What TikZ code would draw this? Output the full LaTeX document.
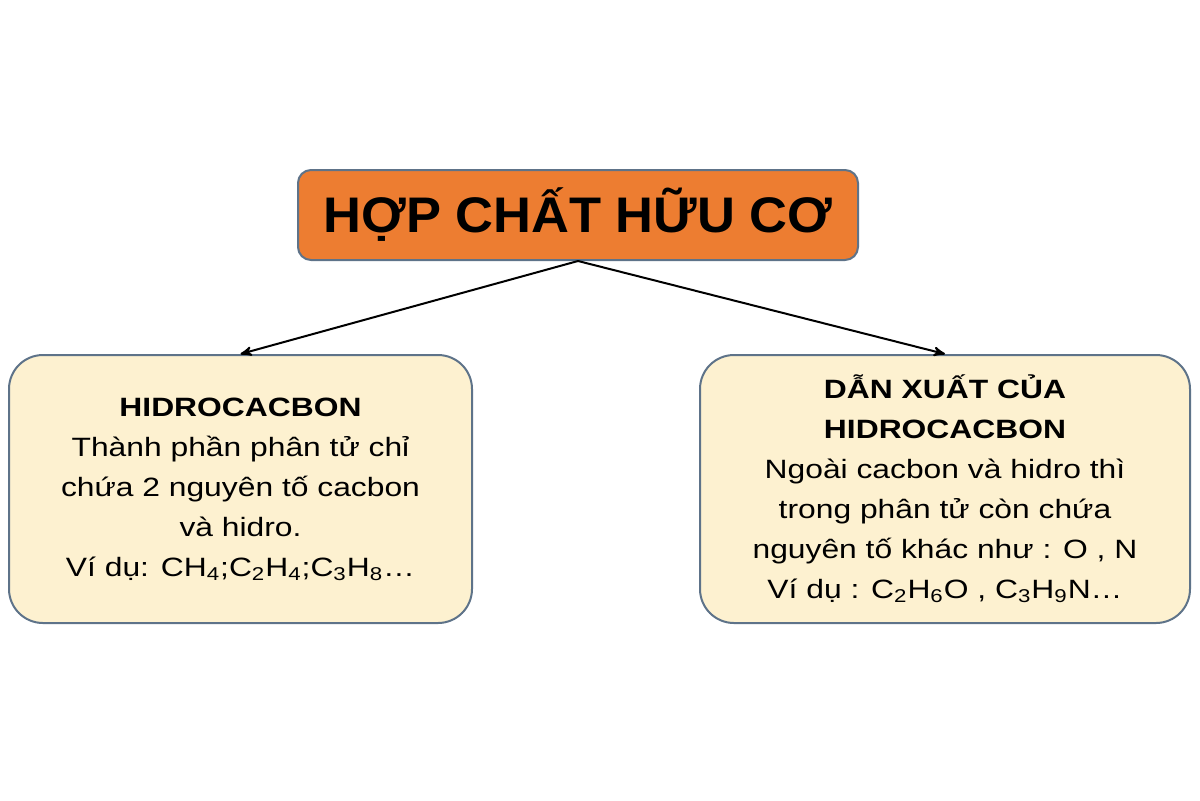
\documentclass[tikz,border=0pt]{standalone}
\usepackage{fontspec}
\setmainfont{Liberation Sans}[FakeStretch=1.2]
\newfontfamily\titlefont{Liberation Sans}[FakeStretch=1.05]
\usepackage{tikz}
\usetikzlibrary{arrows}

\definecolor{hcorange}{HTML}{ED7D31}
\definecolor{hccream}{HTML}{FDF1D0}
\definecolor{hcedge}{HTML}{5E7389}

\begin{document}
\begin{tikzpicture}[->,>=stealth',x=0.5pt,y=-0.5pt,line width=1pt]

        \tikzstyle{topbox}=[draw=hcedge,fill=hcorange,text=black,rounded corners=6.5pt,minimum width=280pt,minimum height=45pt,font=\titlefont\bfseries\fontsize{25}{30}\selectfont]
        \tikzstyle{subbox}=[draw=hcedge,fill=hccream,text=black,rounded corners=17pt,minimum height=134pt,align=center,font=\fontsize{13.25}{20}\selectfont]

        \useasboundingbox (0,0) rectangle (1200,800);

        \node[topbox]                        (1) at (578,215)   {HỢP CHẤT HỮU CƠ};
        \node[subbox,minimum width=231.5pt]  (2) at (240.5,489) {\textbf{HIDROCACBON}\\
            Thành phần phân tử chỉ\\
            chứa 2 nguyên tố cacbon\\
            và hidro.\\
            Ví dụ: CH\textsubscript{4};C\textsubscript{2}H\textsubscript{4};C\textsubscript{3}H\textsubscript{8}…};
        \node[subbox,minimum width=245pt]    (3) at (945,489)   {\textbf{DẪN XUẤT CỦA}\\
            \textbf{HIDROCACBON}\\
            Ngoài cacbon và hidro thì\\
            trong phân tử còn chứa\\
            nguyên tố khác như : O , N\\
            Ví dụ : C\textsubscript{2}H\textsubscript{6}O , C\textsubscript{3}H\textsubscript{9}N…};

        \path
        (1.south) edge (2.north)
        (1.south) edge (3.north)
    ;
    \end{tikzpicture}
\end{document}
